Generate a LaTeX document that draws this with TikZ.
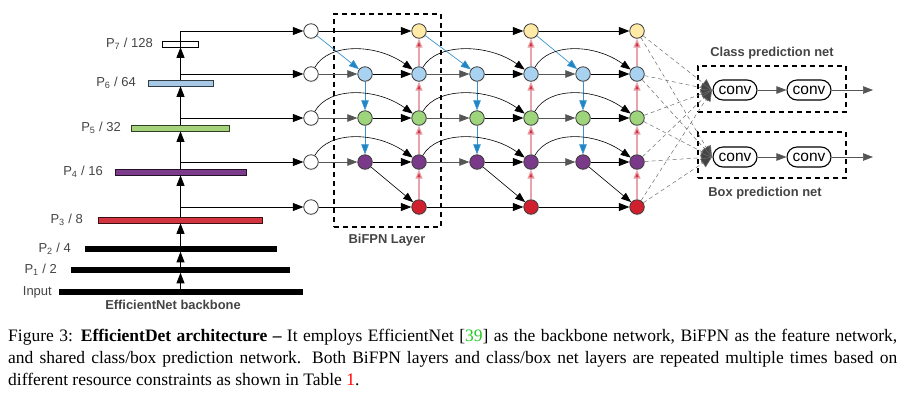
\documentclass[tikz,border=0pt]{standalone}
\usepackage{fontspec}
\setmainfont{Liberation Serif}
\newfontfamily\sansf{Liberation Sans}
\usetikzlibrary{arrows.meta,calc,shadows}
\definecolor{ndl}{HTML}{3C3C3C}
\definecolor{cyel}{HTML}{FFEAA6}
\definecolor{cblu}{HTML}{A9D2F0}
\definecolor{cgrn}{HTML}{9ED47C}
\definecolor{cpur}{HTML}{7B3A89}
\definecolor{cred}{HTML}{D0202E}
\definecolor{bblu}{HTML}{A7C9E6}
\definecolor{bgrn}{HTML}{A5D37C}
\definecolor{bpur}{HTML}{7D3B8C}
\definecolor{bred}{HTML}{D23540}
\definecolor{arblu}{HTML}{1F86C6}
\definecolor{lnblu}{HTML}{3A93CC}
\definecolor{lnred}{HTML}{E9A3AB}
\definecolor{arred}{HTML}{D2303C}
\definecolor{gr}{HTML}{555555}
\definecolor{txg}{HTML}{444444}
\definecolor{citegreen}{HTML}{22CC22}
\begin{document}
\begin{tikzpicture}[x=1pt,y=-1pt,
  fnode/.style={circle,draw=ndl,line width=0.8pt,minimum size=14.5pt,inner sep=0pt,
    drop shadow={opacity=0.13,shadow xshift=0.8pt,shadow yshift=-1.3pt}},
  blk/.style={line width=0.7pt,black,-{Triangle[length=10.5pt,width=8pt]}},
  thinblk/.style={line width=0.6pt,black,-{Triangle[length=10pt,width=7.5pt]}},
  gry/.style={line width=0.7pt,draw=gr,-{Triangle[length=10pt,width=7.5pt,fill=gr]}},
  blu/.style={line width=0.7pt,draw=lnblu,-{Triangle[length=10pt,width=7.5pt,fill=arblu]}},
  redar/.style={line width=1.2pt,draw=lnred,-{Triangle[length=9pt,width=7pt,fill=arred]}},
  fan/.style={line width=0.5pt,draw=gr!85,dash pattern=on 4pt off 3pt,-{Triangle[length=11pt,width=10pt,fill=txg]}},
  bar/.style={rectangle,inner sep=0pt,minimum height=6pt,line width=0.6pt},
  plab/.style={anchor=east,inner sep=0pt,text=txg,font=\sansf\fontsize{13}{15}\selectfont},
  ttl/.style={inner sep=0pt,text=txg,font=\sansf\bfseries\fontsize{12.9}{15}\selectfont},
  dbox/.style={draw=black,line width=1.1pt,dash pattern=on 5pt off 4pt,inner sep=0pt},
  convn/.style={draw=black,line width=1.1pt,fill=white,rounded corners=10pt,minimum width=44pt,minimum height=20pt,inner sep=0pt,font=\sansf\fontsize{15.5}{17}\selectfont}
]
\useasboundingbox (0,0) rectangle (904,400);

% ---------------- backbone ----------------
\node[bar,draw=black,fill=black,minimum width=243pt,minimum height=5pt] (b0) at (180.5,292) {};
\node[bar,draw=black,fill=black,minimum width=218pt,minimum height=5pt] (b1) at (180.5,270) {};
\node[bar,draw=black,fill=black,minimum width=191pt,minimum height=5pt] (b2) at (180.5,249) {};
\node[bar,draw=black!70!bred,fill=bred,minimum width=164pt] (b3) at (180.5,220) {};
\node[bar,draw=black!70!bpur,fill=bpur,minimum width=131pt] (b4) at (180.5,172) {};
\node[bar,draw=black!70!bgrn,fill=bgrn,minimum width=98pt] (b5) at (180.5,128) {};
\node[bar,draw=black!70!bblu,fill=bblu,minimum width=65pt] (b6) at (180.5,83) {};
\node[bar,draw=black,fill=white,minimum width=36pt] (b7) at (180.5,44) {};

\node[plab] (l0) at (52,292) {Input};
\node[plab] (l1) at (57,270) {P\textsubscript{1} / 2};
\node[plab] (l2) at (71,249) {P\textsubscript{2} / 4};
\node[plab] (l3) at (83,220) {P\textsubscript{3} / 8};
\node[plab] (l4) at (103,172) {P\textsubscript{4} / 16};
\node[plab] (l5) at (121,128) {P\textsubscript{5} / 32};
\node[plab] (l6) at (136,83) {P\textsubscript{6} / 64};
\node[plab] (l7) at (153,44) {P\textsubscript{7} / 128};
\node[ttl] (bbt) at (173,305) {EfficientNet backbone};

\draw[blk] (b0.north) -- (b1.south);
\draw[blk] (b1.north) -- (b2.south);
\draw[blk] (b2.north) -- (b3.south);
\draw[blk] (b3.north) -- (b4.south);
\draw[blk] (b4.north) -- (b5.south);
\draw[blk] (b5.north) -- (b6.south);
\draw[blk] (b6.north) -- (b7.south);

% ---------------- input nodes ----------------
\node[fnode,fill=white] (i-7) at (311,31) {};
\node[fnode,fill=white] (i-6) at (311,74) {};
\node[fnode,fill=white] (i-5) at (311,118) {};
\node[fnode,fill=white] (i-4) at (311,162) {};
\node[fnode,fill=white] (i-3) at (311,207) {};

\draw[blk] (b7.south) -- (b7.south |- i-7) -- (i-7);
\draw[blk] (b6 |- i-6) -- (i-6);
\draw[blk] (b5 |- i-5) -- (i-5);
\draw[blk] (b4 |- i-4) -- (i-4);
\draw[blk] (b3 |- i-3) -- (i-3);

% ---------------- BiFPN layers ----------------
\node[dbox,minimum width=107pt,minimum height=213pt] (bifpn) at (387.5,120.5) {};
\node[ttl] (bifpnt) at (387,240) {BiFPN Layer};

\foreach \L/\P/\xm/\xo in {1/i/365/419, 2/o1/477/531, 3/o2/583/637}{
  \node[fnode,fill=cblu] (m\L-6) at (\xm,74) {};
  \node[fnode,fill=cgrn] (m\L-5) at (\xm,118) {};
  \node[fnode,fill=cpur] (m\L-4) at (\xm,162) {};
  \node[fnode,fill=cyel] (o\L-7) at (\xo,31) {};
  \node[fnode,fill=cblu] (o\L-6) at (\xo,74) {};
  \node[fnode,fill=cgrn] (o\L-5) at (\xo,118) {};
  \node[fnode,fill=cpur] (o\L-4) at (\xo,162) {};
  \node[fnode,fill=cred] (o\L-3) at (\xo,207) {};
  % straight edges
  \draw[blk] (\P-7) -- (o\L-7);
  \draw[blk] (\P-3) -- (o\L-3);
  \draw[blu] (\P-7) -- (m\L-6);
  \draw[gry] (\P-6) -- (m\L-6);
  \draw[gry] (\P-5) -- (m\L-5);
  \draw[gry] (\P-4) -- (m\L-4);
  \draw[blu] (m\L-6) -- (m\L-5);
  \draw[blu] (m\L-5) -- (m\L-4);
  \draw[blk] (m\L-6) -- (o\L-6);
  \draw[blk] (m\L-5) -- (o\L-5);
  \draw[blk] (m\L-4) -- (o\L-4);
  \draw[thinblk] (m\L-4) -- (o\L-3);
  % skip curves
  \draw[thinblk] (\P-6.60) .. controls +(14,-25) and +(-36,-26) .. (o\L-6.145);
  \draw[thinblk] (\P-5.60) .. controls +(14,-25) and +(-36,-26) .. (o\L-5.145);
  \draw[thinblk] (\P-4.60) .. controls +(14,-25) and +(-36,-26) .. (o\L-4.145);
  % top-down red
  \draw[redar] (o\L-3) -- (o\L-4);
  \draw[redar] (o\L-4) -- (o\L-5);
  \draw[redar] (o\L-5) -- (o\L-6);
  \draw[redar] (o\L-6) -- (o\L-7);
}

% ---------------- prediction nets ----------------
\node[dbox,minimum width=148pt,minimum height=46pt] (cbox) at (772,89) {};
\node[dbox,minimum width=148pt,minimum height=46pt] (bbox) at (772,155) {};
\node[ttl] (ct) at (772,53) {Class prediction net};
\node[ttl] (bt) at (765,193) {Box prediction net};
\node[convn] (c1) at (735,90) {conv};
\node[convn] (c2) at (809,90) {conv};
\node[convn] (d1) at (735,157) {conv};
\node[convn] (d2) at (809,157) {conv};
\coordinate (cout) at (873,90);
\coordinate (dout) at (873,157);
\coordinate (cfan) at (712,90);
\coordinate (dfan) at (712,157);
\draw[gry] (c1) -- (c2);
\draw[gry] (c2) -- (cout);
\draw[gry] (d1) -- (d2);
\draw[gry] (d2) -- (dout);
\foreach \r in {7,6,5,4,3}{
  \draw[fan] (o3-\r) -- (cfan);
  \draw[fan] (o3-\r) -- (dfan);
}

% ---------------- caption ----------------
\node[anchor=base west,inner sep=0pt,text width=889pt,align=justify,
      font=\fontsize{17.5}{22}\selectfont] (cap) at (8,341)
 {Figure 3: \textbf{EfficientDet architecture –} It employs EfficientNet [\textcolor{citegreen}{39}] as the backbone network, BiFPN as the feature network,\linebreak
 and shared class/box prediction network. Both BiFPN layers and class/box net layers are repeated multiple times based on\linebreak
 different resource constraints as shown in Table \textcolor{red}{1}.};
\end{tikzpicture}
\end{document}
